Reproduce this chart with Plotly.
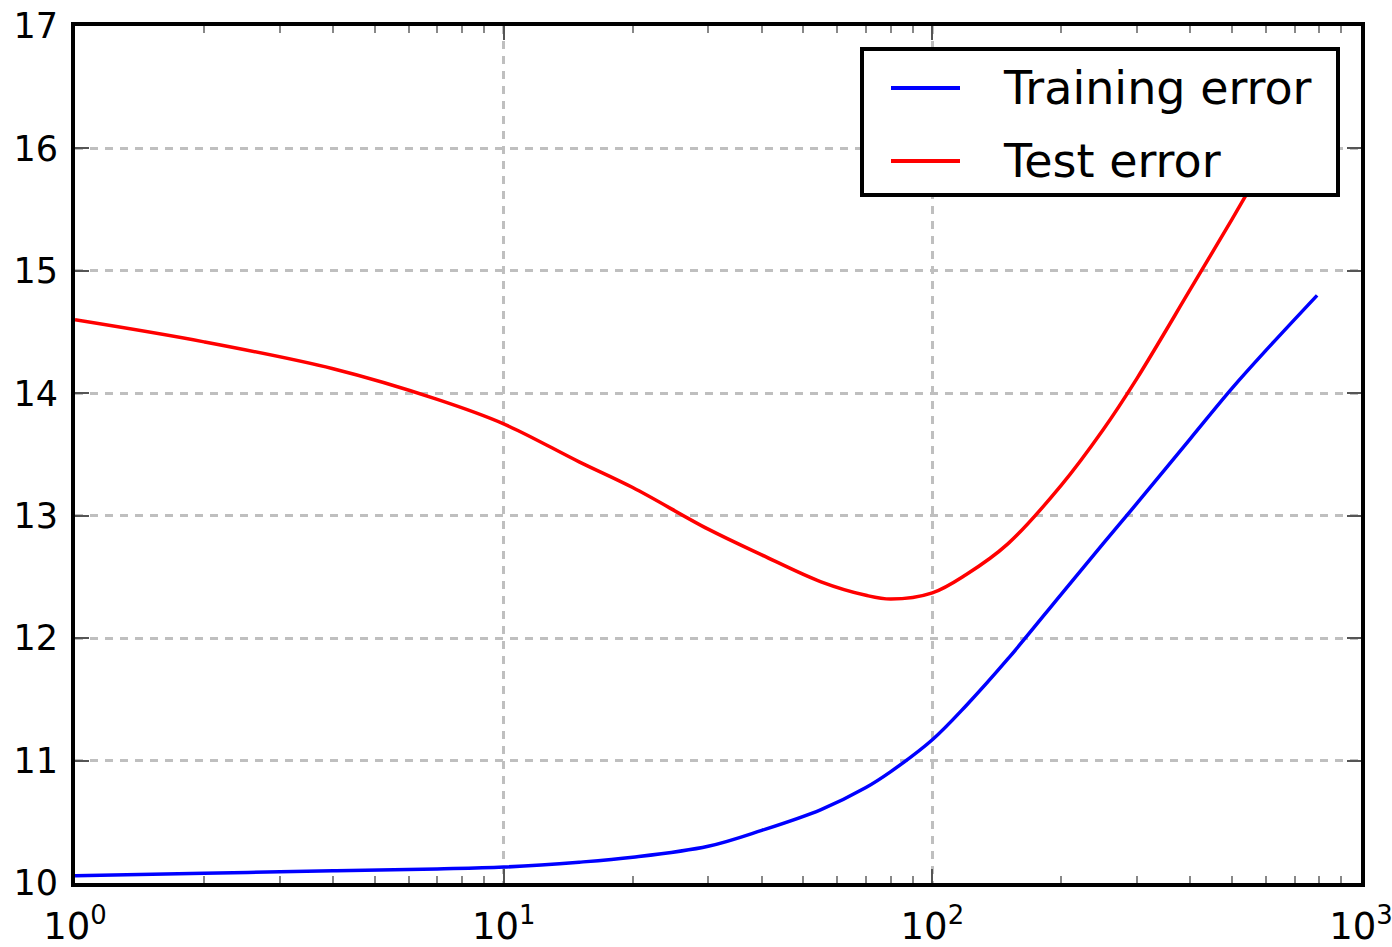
import plotly.graph_objects as go

# Regularisation / model-size sweep (log scale) and the resulting errors
sizes = [1, 2, 4, 7, 10, 15, 20, 30, 40, 55, 70, 80, 100, 120, 150, 200,
         250, 300, 400, 500, 600, 790]
training_error = [10.06, 10.08, 10.10, 10.115, 10.13, 10.17, 10.21, 10.30,
                  10.43, 10.60, 10.78, 10.91, 11.17, 11.45, 11.83, 12.36,
                  12.77, 13.10, 13.63, 14.04, 14.35, 14.80]
test_error = [14.60, 14.42, 14.20, 13.95, 13.75, 13.44, 13.23, 12.89,
              12.68, 12.46, 12.35, 12.32, 12.37, 12.52, 12.77, 13.25,
              13.70, 14.12, 14.85, 15.42, 15.90, 16.60]

series_names = ["Training error", "Test error"]
series_colors = ["#0000ff", "#ff0000"]

x_tick_vals = [1, 10, 100, 1000]
x_tick_text = ["10<sup>0</sup>", "10<sup>1</sup>", "10<sup>2</sup>", "10<sup>3</sup>"]
x_minor_vals = [m * 10 ** d for d in range(3) for m in range(2, 10)]
y_tick_vals = [10, 11, 12, 13, 14, 15, 16, 17]

W, H = 1392, 947
L, R, T, B = 75, 31, 26, 64
PW, PH = W - L - R, H - T - B


def px(x):
    return (x - L) / PW


def py(y):
    return (H - B - y) / PH


FONT = "DejaVu Sans"

fig = go.Figure()
for name, ys, col in zip(series_names, [training_error, test_error], series_colors):
    fig.add_trace(go.Scatter(
        x=sizes, y=ys, name=name, mode="lines",
        line=dict(color=col, width=3.5, shape="spline", smoothing=1.0),
        showlegend=False,
    ))

grid = dict(showgrid=True, gridcolor="#bfbfbf", gridwidth=3, griddash="8px,7px")

fig.update_xaxes(
    type="log", range=[0, 3], automargin=False,
    tickmode="array", tickvals=x_tick_vals, ticktext=x_tick_text,
    ticks="inside", ticklen=14, tickwidth=2, tickcolor="#555",
    showline=True, linecolor="black", linewidth=4, mirror="allticks",
    zeroline=False,
    tickfont=dict(family=FONT, size=37, color="black"),
    ticklabelstandoff=8, ticklabeloverflow="allow",
    minor=dict(tickvals=x_minor_vals, ticks="inside", ticklen=7,
               tickwidth=2, tickcolor="#888", showgrid=False),
    **grid,
)
fig.update_yaxes(
    range=[10, 17], automargin=False,
    tickmode="array", tickvals=y_tick_vals,
    ticks="inside", ticklen=14, tickwidth=2, tickcolor="#555",
    showline=True, linecolor="black", linewidth=4, mirror="allticks",
    zeroline=False,
    tickfont=dict(family=FONT, size=35, color="black"),
    ticklabelstandoff=6, ticklabeloverflow="allow",
    **grid,
)

# Legend box drawn as shapes and text
shapes = [
    dict(type="rect", xref="paper", yref="paper",
         x0=px(862), x1=px(1338), y0=py(195), y1=py(49),
         line=dict(color="black", width=4), fillcolor="white", layer="above"),
]
annotations = []
for name, col, yc in zip(series_names, series_colors, [88, 161]):
    shapes.append(dict(type="line", xref="paper", yref="paper",
                       x0=px(891), x1=px(960), y0=py(yc), y1=py(yc),
                       line=dict(color=col, width=4), layer="above"))
    annotations.append(dict(xref="paper", yref="paper", x=px(1001), y=py(yc),
                            text=name, showarrow=False, xanchor="left",
                            yanchor="middle",
                            font=dict(family=FONT, size=46, color="black")))

fig.update_layout(
    width=W, height=H,
    margin=dict(l=L, r=R, t=T, b=B),
    paper_bgcolor="white", plot_bgcolor="white",
    shapes=shapes, annotations=annotations,
    showlegend=False,
)

fig.write_html("out.html")
